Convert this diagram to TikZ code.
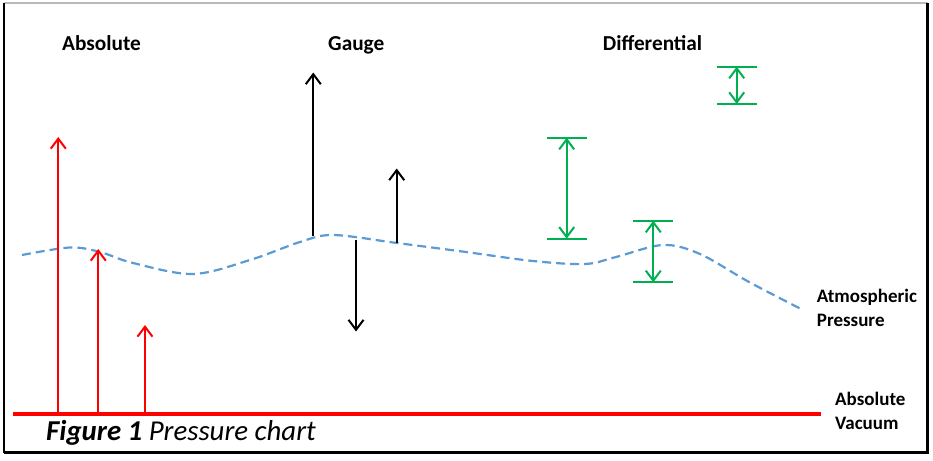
\documentclass[tikz,border=0pt]{standalone}
\usepackage{fontspec}
\setmainfont{Carlito}
\usetikzlibrary{arrows.meta}
\definecolor{vacred}{RGB}{255,0,0}
\definecolor{atmblue}{RGB}{91,155,213}
\definecolor{diffgreen}{RGB}{0,176,80}
\tikzset{
  barb/.tip={Straight Barb[length=10pt,width=15pt,line width=2pt]},
  head/.style={anchor=base west,inner sep=0pt,font=\fontsize{21.3}{25}\selectfont\bfseries},
  side/.style={anchor=base west,inner sep=0pt,font=\fontsize{19}{23}\selectfont\bfseries},
  absarrow/.style={vacred,line width=2pt,-barb},
  gaugearrow/.style={black,line width=2.2pt,-barb},
  diffarrow/.style={diffgreen,line width=2.2pt,barb-barb},
  diffbar/.style={diffgreen,line width=2.2pt}
}
\begin{document}
\begin{tikzpicture}[x=1pt,y=-1pt]
\useasboundingbox (0,0) rectangle (933,460);
% frame
\draw [gray!55, line width=1.2pt] (4,3) -- (928,3);
\draw [line width=1.4pt] (4,3) -- (4,452.5);
\draw [line width=2.6pt] (4,452.5) -- (927.5,452.5) -- (927.5,3);

% headings
\node [head] (absolute) at (62,50.7) {Absolute};
\node [head] (gauge) at (328,50.7) {Gauge};
\node [head] (differential) at (602.7,50.7) {Differential};

% atmospheric pressure
\draw [atmblue, line width=2.2pt, dash pattern=on 9pt off 5pt]
  plot [smooth, tension=0.55] coordinates {(22,255) (70,247.5) (100,252) (133,263) (193,274)
  (250,260) (300,242) (333,235) (397,243) (466,252) (533,261) (585,264) (616,257)
  (663,245) (700,254) (749,282) (803,310)};
\node [side] (atm1) at (816.7,302.7) {Atmospheric};
\node [side] (atm2) at (816.7,326.5) {Pressure};

% absolute vacuum
\coordinate (vacL) at (13,414);
\coordinate (vacR) at (821,414);
\draw [vacred, line width=3.2pt] (vacL) -- (vacR);
\node [side] (vac1) at (835,405.5) {Absolute};
\node [side] (vac2) at (835,429.5) {Vacuum};

% absolute arrows
\coordinate (a1) at (58.3,414);  \coordinate (a1t) at (58.3,137);
\coordinate (a2) at (98.3,414);  \coordinate (a2t) at (98.3,249);
\coordinate (a3) at (145,414);   \coordinate (a3t) at (145,325);
\draw [absarrow] (a1) -- (a1t);
\draw [absarrow] (a2) -- (a2t);
\draw [absarrow] (a3) -- (a3t);

% gauge arrows
\coordinate (g1) at (313.3,235.5); \coordinate (g1t) at (313.3,72.5);
\coordinate (g2) at (396.7,243);   \coordinate (g2t) at (396.7,168.5);
\coordinate (g3) at (356,240);     \coordinate (g3t) at (356,331.5);
\draw [gaugearrow] (g1) -- (g1t);
\draw [gaugearrow] (g2) -- (g2t);
\draw [gaugearrow] (g3) -- (g3t);

% differential arrows
\coordinate (d1t) at (566.7,137.7); \coordinate (d1b) at (566.7,238.7);
\coordinate (d2t) at (653.3,220.7); \coordinate (d2b) at (653.3,282.3);
\coordinate (d3t) at (736.7,66.7);  \coordinate (d3b) at (736.7,104);
\draw [diffbar] ([xshift=-20pt]d1t) -- ([xshift=20pt]d1t);
\draw [diffbar] ([xshift=-20pt]d1b) -- ([xshift=20pt]d1b);
\draw [diffarrow] (d1t) -- (d1b);
\draw [diffbar] ([xshift=-20pt]d2t) -- ([xshift=20pt]d2t);
\draw [diffbar] ([xshift=-20pt]d2b) -- ([xshift=20pt]d2b);
\draw [diffarrow] (d2t) -- (d2b);
\draw [diffbar] ([xshift=-20pt]d3t) -- ([xshift=20pt]d3t);
\draw [diffbar] ([xshift=-20pt]d3b) -- ([xshift=20pt]d3b);
\draw [diffarrow] (d3t) -- (d3b);

% caption
\node [anchor=base west, inner sep=0pt, font=\fontsize{28.8}{34}\selectfont\itshape] (caption)
  at (46,440.7) {\textbf{Figure 1} Pressure chart};
\end{tikzpicture}
\end{document}
